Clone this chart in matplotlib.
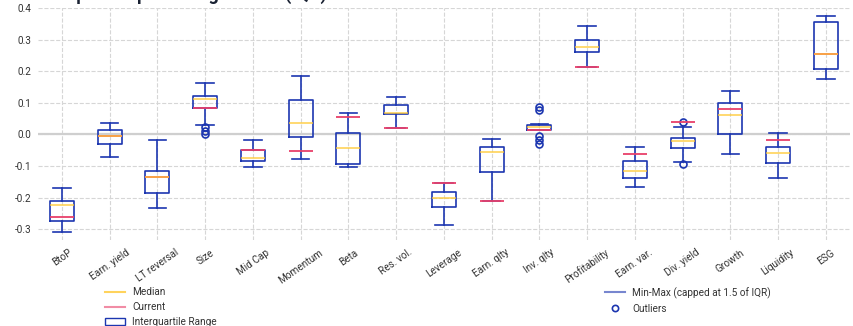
import matplotlib.pyplot as plt
from matplotlib.lines import Line2D
from matplotlib.patches import Patch

plt.rcParams['font.family'] = ['Roboto', 'DejaVu Sans']

factors = ['BtoP', 'Earn. yield', 'LT reversal', 'Size', 'Mid Cap', 'Momentum', 'Beta',
           'Res. vol.', 'Leverage', 'Earn. qlty', 'Inv. qlty', 'Profitability', 'Earn. var.',
           'Div. yield', 'Growth', 'Liquidity', 'ESG']

whisk_lo = [-0.308, -0.072, -0.232, 0.029, -0.104, -0.079, -0.102, 0.021, -0.286, -0.211,
            0.014, 0.212, -0.167, -0.087, -0.062, -0.137, 0.176]
q1 = [-0.275, -0.030, -0.186, 0.083, -0.085, -0.008, -0.092, 0.064, -0.230, -0.118,
      0.015, 0.260, -0.139, -0.042, 0.001, -0.091, 0.208]
median = [-0.224, -0.006, -0.134, 0.112, -0.076, 0.037, -0.044, 0.069, -0.201, -0.057,
          0.023, 0.277, -0.114, -0.022, 0.060, -0.060, 0.255]
q3 = [-0.211, 0.015, -0.114, 0.122, -0.049, 0.110, 0.006, 0.093, -0.181, -0.040,
      0.031, 0.300, -0.084, -0.012, 0.098, -0.040, 0.357]
whisk_hi = [-0.169, 0.037, -0.016, 0.162, -0.016, 0.186, 0.068, 0.119, -0.155, -0.014,
            0.033, 0.343, -0.041, 0.024, 0.138, 0.004, 0.374]
current = [-0.262, -0.006, -0.134, 0.083, -0.049, -0.051, 0.055, 0.021, -0.155, -0.211,
           0.015, 0.212, -0.061, 0.041, 0.080, -0.018, 0.255]
outliers = [[], [], [], [0.023, 0.011, 0.0], [], [], [], [], [], [],
            [0.088, 0.077, -0.005, -0.018, -0.031], [], [], [0.041, -0.092], [], [], []]

BLUE = '#1c36b0'
YELLOW = '#ffc933'
RED = '#e8406a'

stats = []
for i, name in enumerate(factors):
    stats.append(dict(label=name, whislo=whisk_lo[i], q1=q1[i], med=median[i],
                      q3=q3[i], whishi=whisk_hi[i], fliers=outliers[i]))

fig = plt.figure(figsize=(8.54, 3.26), dpi=100)
ax = fig.add_axes([0.0445, 0.2626, 0.9505, 0.7129])

pos = list(range(len(factors)))

# current value drawn first so a matching median blends orange on top of it
ax.hlines(current, [p - 0.25 for p in pos], [p + 0.25 for p in pos],
          colors=RED, linewidth=1.3, zorder=3)

ax.bxp(stats, positions=pos, widths=0.5, showfliers=True,
       boxprops=dict(color=BLUE, linewidth=1.2),
       whiskerprops=dict(color=BLUE, linewidth=1.2),
       capprops=dict(color=BLUE, linewidth=1.2),
       medianprops=dict(color=YELLOW, linewidth=1.3, alpha=0.75),
       flierprops=dict(marker='o', markerfacecolor='none', markeredgecolor=BLUE,
                       markersize=5, markeredgewidth=1.2),
       capwidths=0.37)
for art in ax.get_children():
    if isinstance(art, Line2D) and art.get_color() == YELLOW:
        art.set_zorder(4)

ax.axhline(0, color='#cfcfcf', linewidth=1.6, zorder=1)
ax.grid(True, linestyle='--', color='#d6d6d6', linewidth=0.8, zorder=0)
ax.set_axisbelow(True)

ax.set_xlim(-0.5, len(factors) - 0.5)
ax.set_ylim(-0.335, 0.4)
ax.set_yticks([-0.3, -0.2, -0.1, 0.0, 0.1, 0.2, 0.3, 0.4])
ax.set_yticklabels(['-0.3', '-0.2', '-0.1', '0.0', '0.1', '0.2', '0.3', '0.4'])
ax.set_xticks(pos)
ax.set_xticklabels(factors, rotation=35, ha='center')
ax.tick_params(axis='both', length=0, labelsize=7.2, labelcolor='#333333', pad=5)
for s in ax.spines.values():
    s.set_visible(False)

fig.text(57 / 854, 1 - 0.3 / 326, 'Exposure percentage levels (IQR)', fontsize=13,
         fontweight='bold', color='#1a2233', ha='left', va='baseline')

left_handles = [Line2D([], [], color=YELLOW, linewidth=1.5, alpha=0.8),
                Line2D([], [], color=RED, linewidth=1.5, alpha=0.6),
                Patch(facecolor='white', edgecolor=BLUE, linewidth=1.0)]
right_handles = [Line2D([], [], color=BLUE, linewidth=1.5, alpha=0.6),
                 Line2D([], [], linestyle='none', marker='o', markerfacecolor='none',
                        markeredgecolor=BLUE, markersize=4.5, markeredgewidth=1.2)]

leg_kw = dict(frameon=False, fontsize=7.2, handlelength=2.0, handletextpad=0.7,
              labelspacing=0.5, borderpad=0, borderaxespad=0)
for t in [fig.legend(left_handles, ['Median', 'Current', 'Interquartile Range'],
                     loc='upper left', bbox_to_anchor=(105 / 854, 1 - 287 / 326), **leg_kw),
          fig.legend(right_handles, ['Min-Max (capped at 1.5 of IQR)', 'Outliers'],
                     loc='upper left', bbox_to_anchor=(605 / 854, 1 - 287 / 326), **leg_kw)]:
    for txt in t.get_texts():
        txt.set_color('#333333')

fig.savefig('out.png', dpi=100)
